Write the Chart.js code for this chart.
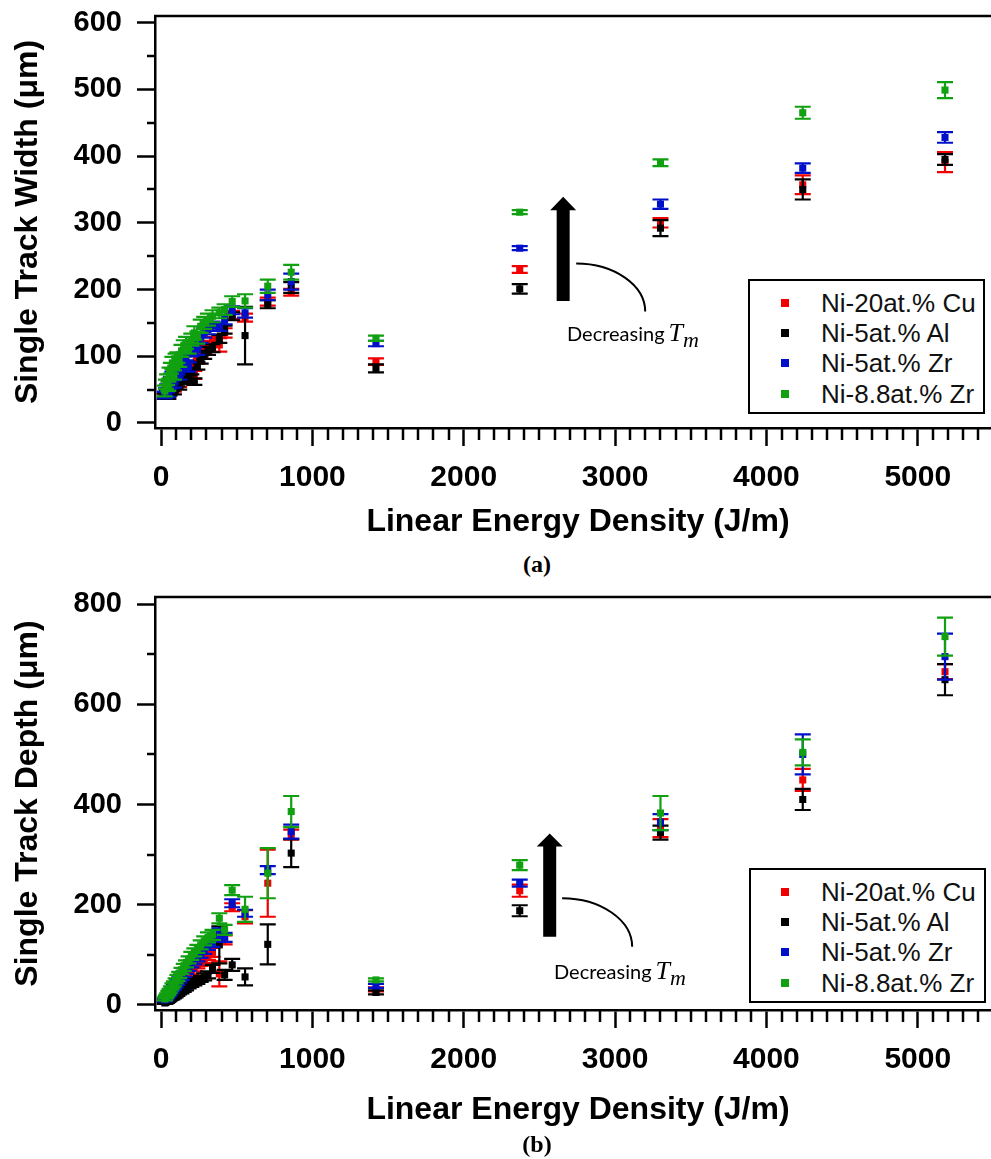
<!DOCTYPE html>
<html>
<head>
<meta charset="utf-8">
<script src="https://cdn.jsdelivr.net/npm/chart.js@4.4.1/dist/chart.umd.min.js"></script>
<style>
  html, body { margin: 0; padding: 0; background: #fff; overflow: hidden; }
  body { width: 991px; height: 1159px; position: relative; }
  .panel { position: absolute; left: 0; }
  .panel canvas { display: block; }
  .legend { position: absolute; border: 2.5px solid #000; background: #fff; box-sizing: border-box; }
  .row { position: absolute; height: 30px; line-height: 30px; white-space: nowrap;
         font-family: 'Liberation Sans', Arial, sans-serif; font-size: 26px; color: #111; }
  .mk { position: absolute; width: 8px; height: 8px; }
  .note { position: absolute; white-space: nowrap; font-family: Lato, 'Open Sans', sans-serif;
          font-size: 20px; line-height: 20px; color: #000; }
  .note .t { font-family: 'Liberation Serif', 'DejaVu Serif', serif; font-style: italic; font-size: 26px; margin-left: 4px; }
  .note .m { font-family: 'Liberation Serif', 'DejaVu Serif', serif; font-style: italic; font-size: 22px; position: relative; top: 6px; }
  .cap { position: absolute; width: 80px; text-align: center; font-family: 'Liberation Serif', 'Times New Roman', serif;
         font-weight: bold; font-size: 24px; line-height: 24px; color: #000; }
</style>
</head>
<body>
<div class="panel" style="top:0"><canvas id="chartWidth" width="1010" height="545"></canvas></div>
<div class="panel" style="top:580px"><canvas id="chartDepth" width="1010" height="553"></canvas></div>
<div class="cap" style="left:497px;top:552px">(a)</div>
<div class="cap" style="left:497px;top:1132px">(b)</div>
<div class="note" style="left:567px;top:323px">Decreasing<span class="t">T</span><span class="m">m</span></div>
<div class="note" style="left:554px;top:961px">Decreasing<span class="t">T</span><span class="m">m</span></div>

<script>
// linear energy density, shared by all alloys (J/m)
const energy = [25, 32, 40, 48, 56, 65, 75, 85, 96, 108, 120, 135, 150, 165, 182, 200, 220,
                240, 262, 285, 310, 340, 385, 420, 470, 555, 705, 860, 1420, 2370, 3300, 4240, 5180];

const alloys = ['Ni-20at.% Cu', 'Ni-5at.% Al', 'Ni-5at.% Zr', 'Ni-8.8at.% Zr'];
const alloyColors = ['#f00000', '#000000', '#0010c8', '#10a010'];

// axis tick values
const energyTicks = [0, 1000, 2000, 3000, 4000, 5000];
const widthTicks = [0, 100, 200, 300, 400, 500, 600];
const depthTicks = [0, 200, 400, 600, 800];

// single track width (µm) and its error
const widthCu   = [40, 42, 46, 42, 50, 54, 58, 52, 62, 66, 60, 70, 76, 82, 72, 88, 72, 96, 104, 110, 116, 122, 117, 135, 162, 158, 182, 196, 92, 230, 300, 357, 391];
const widthAl   = [40, 41, 44, 40, 46, 50, 53, 48, 56, 60, 55, 64, 68, 72, 65, 78, 62, 86, 95, 102, 108, 112, 126, 140, 160, 131, 178, 203, 82, 201, 292, 350, 395];
const widthZr5  = [42, 46, 52, 45, 58, 64, 70, 60, 75, 80, 72, 86, 92, 100, 84, 108, 118, 110, 128, 135, 140, 145, 144, 155, 169, 165, 192, 212, 119, 262, 328, 382, 428];
const widthZr88 = [48, 58, 65, 55, 75, 82, 90, 72, 95, 98, 92, 108, 115, 120, 112, 125, 135, 128, 145, 150, 155, 160, 165, 170, 182, 183, 205, 226, 127, 316, 390, 465, 499];
const widthErrCu   = [4, 4, 4, 5, 5, 4, 5, 5, 5, 5, 6, 6, 6, 5, 6, 5, 6, 7, 7, 6, 7, 7, 10, 7, 6, 6, 6, 5, 5, 5, 7, 14, 15];
const widthErrAl   = [4, 4, 4, 4, 5, 4, 5, 5, 4, 5, 5, 5, 6, 5, 6, 5, 5, 6, 6, 6, 6, 6, 6, 6, 6, 43, 6, 8, 6, 7, 12, 15, 8];
const widthErrZr5  = [5, 6, 6, 6, 6, 5, 7, 7, 6, 7, 7, 7, 8, 6, 7, 8, 5, 8, 8, 7, 7, 7, 6, 7, 6, 7, 8, 12, 4, 3, 7, 7, 8];
const widthErrZr88 = [8, 7, 8, 7, 8, 8, 9, 7, 9, 8, 8, 9, 9, 9, 8, 9, 10, 9, 10, 9, 9, 9, 8, 8, 8, 10, 10, 11, 4, 3, 5, 9, 12];

// single track depth (µm) and its error
const depthCu   = [7, 9, 12, 15, 18, 21, 25, 28, 32, 36, 40, 46, 51, 56, 62, 68, 74, 80, 86, 92, 98, 105, 62, 130, 195, 176, 243, 340, 31, 228, 353, 449, 665];
const depthAl   = [4, 5, 7, 9, 11, 13, 15, 17, 19, 22, 25, 28, 31, 34, 38, 42, 45, 48, 52, 56, 60, 72, 120, 60, 80, 56, 121, 303, 25, 188, 344, 410, 649];
const depthZr5  = [10, 13, 16, 19, 23, 27, 31, 35, 40, 45, 50, 56, 62, 68, 75, 82, 88, 95, 102, 110, 118, 125, 143, 135, 203, 183, 269, 346, 38, 243, 365, 500, 695];
const depthZr88 = [12, 16, 20, 24, 28, 33, 38, 42, 48, 54, 60, 68, 75, 82, 90, 98, 105, 112, 120, 128, 135, 140, 173, 150, 229, 191, 263, 386, 50, 279, 383, 504, 735];
const depthErrCu   = [3, 3, 3, 3, 3, 3, 4, 4, 4, 5, 5, 5, 6, 6, 6, 7, 7, 7, 8, 8, 8, 9, 25, 9, 8, 13, 67, 10, 4, 12, 18, 22, 15];
const depthErrAl   = [2, 2, 3, 3, 3, 3, 4, 4, 4, 4, 4, 5, 5, 5, 5, 6, 6, 6, 6, 7, 7, 8, 37, 10, 12, 17, 40, 28, 4, 11, 14, 21, 31];
const depthErrZr5  = [3, 3, 3, 3, 4, 4, 4, 5, 5, 5, 5, 6, 6, 6, 7, 7, 7, 8, 8, 8, 8, 9, 10, 9, 8, 7, 8, 14, 4, 7, 16, 40, 46];
const depthErrZr88 = [3, 3, 3, 4, 4, 4, 5, 5, 5, 6, 6, 6, 7, 7, 7, 8, 8, 8, 9, 9, 10, 10, 10, 10, 10, 25, 50, 31, 3, 10, 34, 26, 38];

const FONT = "'Liberation Sans', Arial, sans-serif";

// vertical error bars, drawn just under each dataset's markers
const errorBars = {
    id: 'errorBars',
    beforeDatasetDraw(chart, args) {
        const ds = chart.data.datasets[args.index];
        const y = chart.scales.y;
        const ctx = chart.ctx;
        ctx.save();
        ctx.strokeStyle = ds.backgroundColor;
        ctx.lineWidth = 2.2;
        args.meta.data.forEach((pt, i) => {
            const v = ds.data[i].y, e = ds.errors[i];
            const top = y.getPixelForValue(v + e);
            const bot = y.getPixelForValue(v - e);
            ctx.beginPath();
            ctx.moveTo(pt.x, top); ctx.lineTo(pt.x, bot);
            ctx.moveTo(pt.x - 8, top); ctx.lineTo(pt.x + 8, top);
            ctx.moveTo(pt.x - 8, bot); ctx.lineTo(pt.x + 8, bot);
            ctx.stroke();
        });
        ctx.restore();
    }
};

// top border line, minor ticks and the "decreasing Tm" arrow
const frame = {
    id: 'frame',
    afterDraw(chart, args, opts) {
        const {ctx, chartArea: a, scales: {x, y}} = chart;
        ctx.save();
        ctx.strokeStyle = '#000';
        ctx.lineWidth = 2.5;
        ctx.beginPath();
        ctx.moveTo(a.left - 1, a.top); ctx.lineTo(a.right + 20, a.top);
        for (let v = opts.yMinor; v < y.max; v += 2 * opts.yMinor) {
            const py = Math.round(y.getPixelForValue(v));
            ctx.moveTo(a.left - 8, py); ctx.lineTo(a.left, py);
        }
        for (let v = 100; v < x.max; v += 100) {
            if (v % 1000 === 0) continue;
            const px = Math.round(x.getPixelForValue(v));
            ctx.moveTo(px, a.bottom); ctx.lineTo(px, a.bottom + 12);
        }
        ctx.stroke();

        // arrow
        const ar = opts.arrow;
        const cx = x.getPixelForValue(ar.x);
        const tip = y.getPixelForValue(ar.tip);
        const base = y.getPixelForValue(ar.base);
        const foot = y.getPixelForValue(ar.foot);
        ctx.fillStyle = '#000';
        ctx.beginPath();
        ctx.moveTo(cx, tip);
        ctx.lineTo(cx + 13, base);
        ctx.lineTo(cx + 6.5, base);
        ctx.lineTo(cx + 6.5, foot);
        ctx.lineTo(cx - 6.5, foot);
        ctx.lineTo(cx - 6.5, base);
        ctx.lineTo(cx - 13, base);
        ctx.closePath();
        ctx.fill();

        // curved pointer line from arrow to the label
        const x0 = x.getPixelForValue(ar.curve[0]), y0 = y.getPixelForValue(ar.curve[1]);
        const x1 = x.getPixelForValue(ar.curve[2]), y1 = y.getPixelForValue(ar.curve[3]);
        ctx.lineWidth = 2;
        ctx.beginPath();
        ctx.moveTo(x0, y0);
        ctx.bezierCurveTo(x0 + 0.55 * (x1 - x0), y0, x1, y1 - 0.55 * (y1 - y0), x1, y1);
        ctx.stroke();
        ctx.restore();
    }
};

function series(values, errors) {
    return alloys.map((name, k) => ({
        label: name,
        data: energy.map((e, i) => ({x: e, y: values[k][i]})),
        errors: errors[k],
        backgroundColor: alloyColors[k],
        borderWidth: 0,
        pointStyle: 'rect',
        pointRadius: 5,
        showLine: false,
        order: 4 - k
    }));
}

function makeChart(id, o) {
    const boldFont = size => ({family: FONT, size: size, weight: 'bold'});
    return new Chart(document.getElementById(id), {
        type: 'scatter',
        data: {datasets: series(o.values, o.errors)},
        options: {
            responsive: false,
            animation: false,
            layout: {padding: {top: o.padTop, right: 9, left: 0, bottom: 0}},
            plugins: {
                legend: {display: false},
                tooltip: {enabled: false},
                frame: {yMinor: o.yMinor, arrow: o.arrow}
            },
            scales: {
                x: {
                    type: 'linear', min: -40, max: 5550,
                    afterBuildTicks(s) { s.ticks = energyTicks.map(v => ({value: v})); },
                    ticks: {autoSkip: false, maxRotation: 0, color: '#000', font: boldFont(30), padding: 14,
                            callback: v => String(v)},
                    grid: {drawOnChartArea: false, tickLength: 18, tickWidth: 2.5, tickColor: '#000'},
                    border: {color: '#000', width: 2.5},
                    title: {display: true, text: 'Linear Energy Density (J/m)', color: '#000',
                            font: boldFont(32), padding: {top: 0, bottom: 4}},
                    afterFit(s) {
                        s.height = o.xHeight;
                        s.paddingLeft = 0; s.paddingRight = 0;
                    }
                },
                y: {
                    min: o.yMin, max: o.yMax,
                    afterBuildTicks(s) { s.ticks = o.yTicks.map(v => ({value: v})); },
                    ticks: {color: '#000', font: boldFont(29), padding: 15, callback: v => String(v)},
                    grid: {drawOnChartArea: false, tickLength: 18, tickWidth: 2.5, tickColor: '#000'},
                    border: {color: '#000', width: 2.5},
                    title: {display: true, text: o.yTitle, color: '#000', font: boldFont(32),
                            padding: {top: 9, bottom: 0}},
                    afterFit(s) {
                        s.width = 155;
                        s.paddingTop = 0; s.paddingBottom = 0;
                    }
                }
            }
        },
        plugins: [errorBars, frame]
    });
}

function makeLegend(left, top, rows) {
    const box = document.createElement('div');
    box.className = 'legend';
    Object.assign(box.style, {left: left + 'px', top: top + 'px', width: '237px', height: '135px'});
    document.body.appendChild(box);
    alloys.forEach((name, k) => {
        const mk = document.createElement('div');
        mk.className = 'mk';
        Object.assign(mk.style, {left: '781px', top: (rows[k] - 4) + 'px', background: alloyColors[k]});
        const tx = document.createElement('div');
        tx.className = 'row';
        tx.textContent = name;
        Object.assign(tx.style, {left: '821px', top: (rows[k] - 15) + 'px'});
        document.body.appendChild(mk);
        document.body.appendChild(tx);
    });
}

makeChart('chartWidth', {
    values: [widthCu, widthAl, widthZr5, widthZr88],
    errors: [widthErrCu, widthErrAl, widthErrZr5, widthErrZr88],
    yMin: -7.5, yMax: 610, yTicks: widthTicks, yMinor: 50, padTop: 16, xHeight: 117,
    yTitle: 'Single Track Width (μm)',
    arrow: {x: 2657, tip: 339, base: 319, foot: 183, curve: [2743, 239, 3199, 167]}
});

makeChart('chartDepth', {
    values: [depthCu, depthAl, depthZr5, depthZr88],
    errors: [depthErrCu, depthErrAl, depthErrZr5, depthErrZr88],
    yMin: -10, yMax: 814, yTicks: depthTicks, yMinor: 100, padTop: 17, xHeight: 123,
    yTitle: 'Single Track Depth (μm)',
    arrow: {x: 2568, tip: 342, base: 316, foot: 136, curve: [2650, 213, 3113, 116]}
});

makeLegend(748, 279, [303, 333, 363, 394]);
makeLegend(749, 868, [892, 922, 952, 983]);
</script>
</body>
</html>
